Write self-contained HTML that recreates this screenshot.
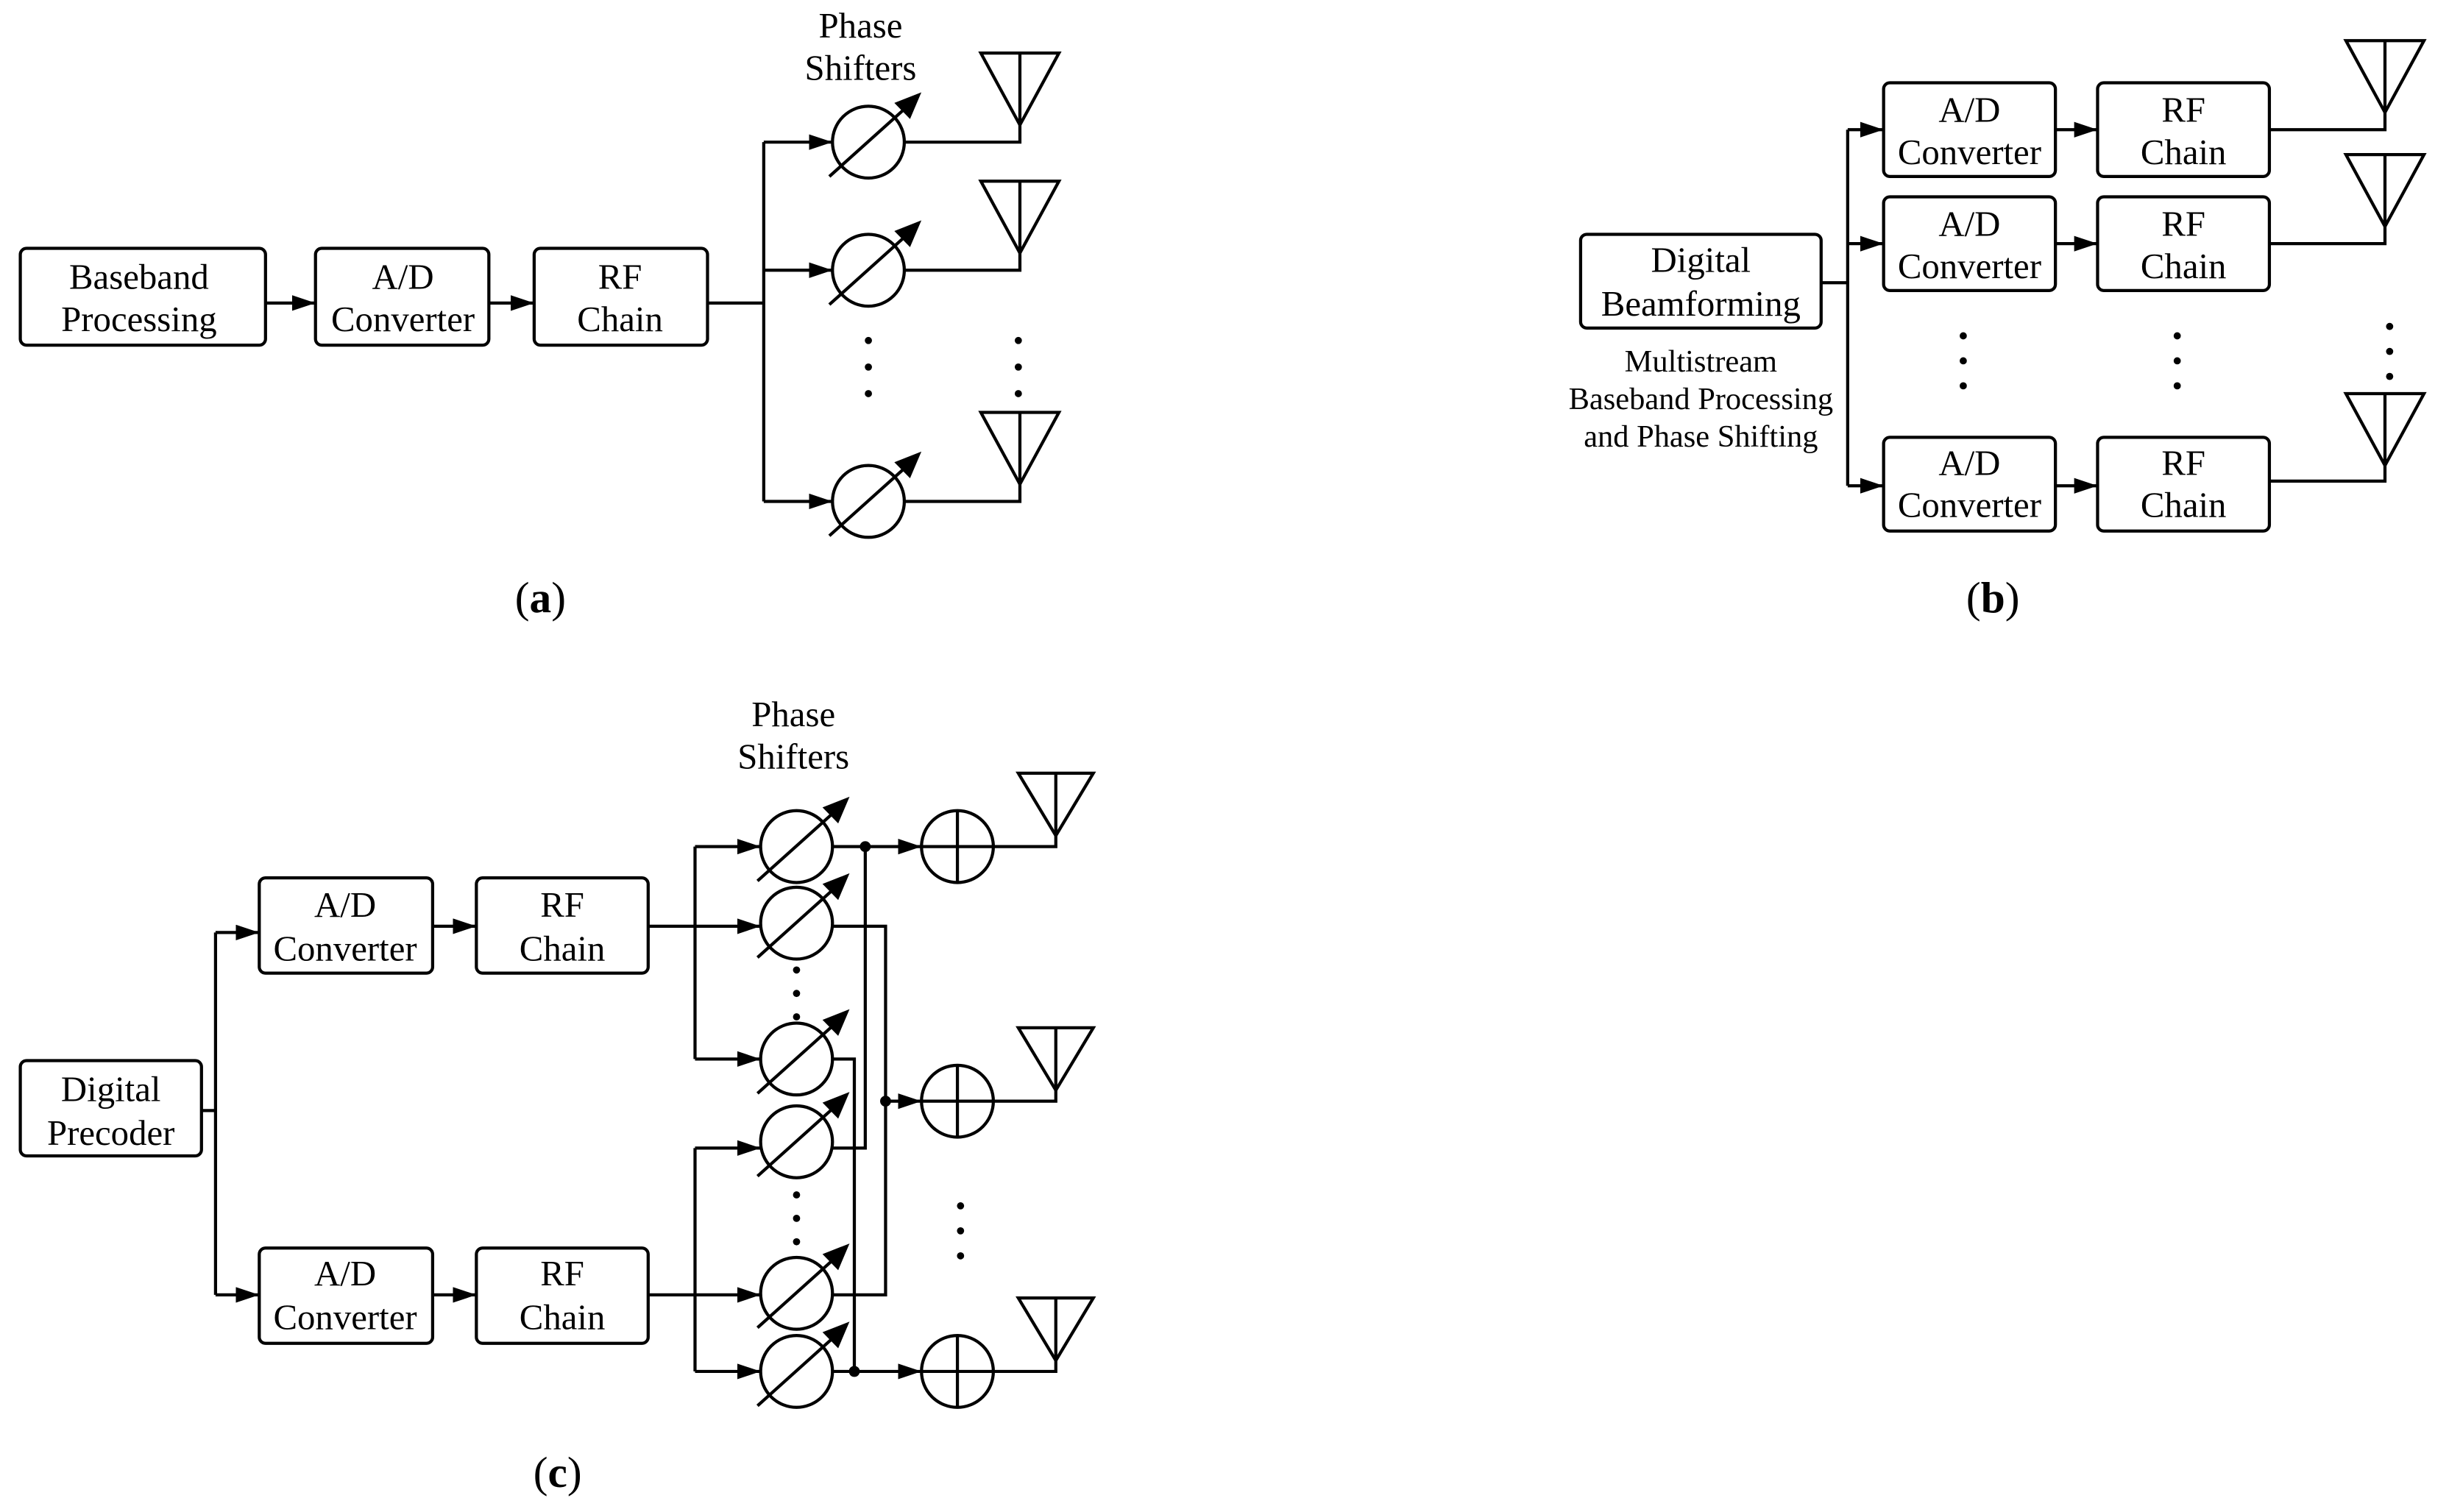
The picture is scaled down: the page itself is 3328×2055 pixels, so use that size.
<!DOCTYPE html>
<html><head><meta charset="utf-8"><style>
html,body{margin:0;padding:0;background:#fff}
svg{display:block}
text{font-family:"Liberation Serif",serif;fill:#000}
</style></head><body>
<svg width="3328" height="2055" viewBox="0 0 1568 968" preserveAspectRatio="none" xmlns="http://www.w3.org/2000/svg">
<defs>
<marker id="ar" markerUnits="userSpaceOnUse" markerWidth="16" markerHeight="12" refX="15" refY="5" orient="auto">
<path d="M0,0 L15,5 L0,10 Z" fill="#000"/></marker>
<g id="ps">
<circle r="23" fill="none" stroke="#000" stroke-width="2"/>
<line x1="-25" y1="22" x2="24" y2="-22" stroke="#000" stroke-width="2"/>
<polygon points="33,-31 26.5,-15.7 17.5,-24.9" fill="#000" stroke="#000" stroke-width="1"/>
</g>
<g id="ad">
<circle r="23" fill="none" stroke="#000" stroke-width="2"/>
<line x1="-23" y1="0" x2="23" y2="0" stroke="#000" stroke-width="2"/>
<line x1="0" y1="-23" x2="0" y2="23" stroke="#000" stroke-width="2"/>
</g>
<g id="ant"><polygon points="-25,-46 25,-46 0,0" fill="none" stroke="#000" stroke-width="2"/><line x1="0" y1="-46" x2="0" y2="0" stroke="#000" stroke-width="2"/></g>
<g id="ant2"><polygon points="-24,-40 24,-40 0,0" fill="none" stroke="#000" stroke-width="2"/><line x1="0" y1="-40" x2="0" y2="0" stroke="#000" stroke-width="2"/></g>
</defs>
<g fill="none" stroke="#000" stroke-width="2">
<!-- (a) -->
<rect x="13" y="159" width="157" height="62" rx="4"/>
<rect x="202" y="159" width="111" height="62" rx="4"/>
<rect x="342" y="159" width="111" height="62" rx="4"/>
<line x1="170" y1="194" x2="202" y2="194" marker-end="url(#ar)"/>
<line x1="313" y1="194" x2="342" y2="194" marker-end="url(#ar)"/>
<path d="M453,194 H489"/>
<path d="M489,91 V321"/>
<line x1="489" y1="91" x2="533" y2="91" marker-end="url(#ar)"/>
<line x1="489" y1="173" x2="533" y2="173" marker-end="url(#ar)"/>
<line x1="489" y1="321" x2="533" y2="321" marker-end="url(#ar)"/>
<path d="M579,91 H653 V80"/><path d="M579,173 H653 V162"/><path d="M579,321 H653 V310"/>
<!-- (b) -->
<rect x="1012" y="150" width="154" height="60" rx="4"/>
<path d="M1166,181 H1183 M1183,83 V311"/>
<rect x="1206" y="53" width="110" height="60" rx="4"/>
<rect x="1206" y="126" width="110" height="60" rx="4"/>
<rect x="1206" y="280" width="110" height="60" rx="4"/>
<rect x="1343" y="53" width="110" height="60" rx="4"/>
<rect x="1343" y="126" width="110" height="60" rx="4"/>
<rect x="1343" y="280" width="110" height="60" rx="4"/>
<line x1="1183" y1="83" x2="1206" y2="83" marker-end="url(#ar)"/>
<line x1="1183" y1="156" x2="1206" y2="156" marker-end="url(#ar)"/>
<line x1="1183" y1="311" x2="1206" y2="311" marker-end="url(#ar)"/>
<line x1="1316" y1="83" x2="1343" y2="83" marker-end="url(#ar)"/>
<line x1="1316" y1="156" x2="1343" y2="156" marker-end="url(#ar)"/>
<line x1="1316" y1="311" x2="1343" y2="311" marker-end="url(#ar)"/>
<path d="M1453,83 H1527 V72 M1453,156 H1527 V145 M1453,308 H1527 V298"/>
<!-- (c) -->
<rect x="13" y="679" width="116" height="61" rx="4"/>
<path d="M129,711 H138 M138,597 V829"/>
<line x1="138" y1="597" x2="166" y2="597" marker-end="url(#ar)"/>
<line x1="138" y1="829" x2="166" y2="829" marker-end="url(#ar)"/>
<rect x="166" y="562" width="111" height="61" rx="4"/>
<rect x="166" y="799" width="111" height="61" rx="4"/>
<rect x="305" y="562" width="110" height="61" rx="4"/>
<rect x="305" y="799" width="110" height="61" rx="4"/>
<line x1="277" y1="593" x2="305" y2="593" marker-end="url(#ar)"/>
<line x1="277" y1="829" x2="305" y2="829" marker-end="url(#ar)"/>
<path d="M415,593 H445 M445,542 V678 M415,829 H445 M445,735 V878"/>
<line x1="445" y1="542" x2="487" y2="542" marker-end="url(#ar)"/>
<line x1="445" y1="593" x2="487" y2="593" marker-end="url(#ar)"/>
<line x1="445" y1="678" x2="487" y2="678" marker-end="url(#ar)"/>
<line x1="445" y1="735" x2="487" y2="735" marker-end="url(#ar)"/>
<line x1="445" y1="829" x2="487" y2="829" marker-end="url(#ar)"/>
<line x1="445" y1="878" x2="487" y2="878" marker-end="url(#ar)"/>
<path d="M533,542 H554 V735 H533"/>
<path d="M533,593 H567 V829 H533"/>
<path d="M533,678 H547 V878 H533"/>
<line x1="554" y1="542" x2="590" y2="542" marker-end="url(#ar)"/>
<line x1="567" y1="705" x2="590" y2="705" marker-end="url(#ar)"/>
<line x1="547" y1="878" x2="590" y2="878" marker-end="url(#ar)"/>
<path d="M636,542 H676 V535 M636,705 H676 V698 M636,878 H676 V871"/>
</g>
<g fill="#000">
<circle cx="554" cy="542" r="3.5"/><circle cx="567" cy="705" r="3.5"/><circle cx="547" cy="878" r="3.5"/>
<circle cx="556" cy="218" r="2.3"/><circle cx="556" cy="235" r="2.3"/><circle cx="556" cy="252" r="2.3"/>
<circle cx="652" cy="218" r="2.3"/><circle cx="652" cy="235" r="2.3"/><circle cx="652" cy="252" r="2.3"/>
<circle cx="1257" cy="215" r="2.3"/><circle cx="1257" cy="231" r="2.3"/><circle cx="1257" cy="247" r="2.3"/>
<circle cx="1394" cy="215" r="2.3"/><circle cx="1394" cy="231" r="2.3"/><circle cx="1394" cy="247" r="2.3"/>
<circle cx="1530" cy="209" r="2.3"/><circle cx="1530" cy="225" r="2.3"/><circle cx="1530" cy="241" r="2.3"/>
<circle cx="510" cy="621" r="2.3"/><circle cx="510" cy="636" r="2.3"/><circle cx="510" cy="651" r="2.3"/>
<circle cx="510" cy="765" r="2.3"/><circle cx="510" cy="780" r="2.3"/><circle cx="510" cy="795" r="2.3"/>
<circle cx="615" cy="772" r="2.3"/><circle cx="615" cy="788" r="2.3"/><circle cx="615" cy="804" r="2.3"/>
</g>
<use href="#ps" x="556" y="91"/><use href="#ps" x="556" y="173"/><use href="#ps" x="556" y="321"/>
<use href="#ps" x="510" y="542"/><use href="#ps" x="510" y="591"/><use href="#ps" x="510" y="678"/>
<use href="#ps" x="510" y="731"/><use href="#ps" x="510" y="828"/><use href="#ps" x="510" y="878"/>
<use href="#ad" x="613" y="542"/><use href="#ad" x="613" y="705"/><use href="#ad" x="613" y="878"/>
<use href="#ant" x="653" y="80"/><use href="#ant" x="653" y="162"/><use href="#ant" x="653" y="310"/>
<use href="#ant" x="1527" y="72"/><use href="#ant" x="1527" y="145"/><use href="#ant" x="1527" y="298"/>
<use href="#ant2" x="676" y="535"/><use href="#ant2" x="676" y="698"/><use href="#ant2" x="676" y="871"/>
<g font-size="23" text-anchor="middle">
<text x="89" y="185">Baseband</text><text x="89" y="212">Processing</text>
<text x="258" y="185">A/D</text><text x="258" y="212">Converter</text>
<text x="397" y="185">RF</text><text x="397" y="212">Chain</text>
<text x="551" y="24">Phase</text><text x="551" y="51">Shifters</text>
<text x="1089" y="174">Digital</text><text x="1089" y="202">Beamforming</text>
<text x="1261" y="78">A/D</text><text x="1261" y="105">Converter</text>
<text x="1261" y="151">A/D</text><text x="1261" y="178">Converter</text>
<text x="1261" y="304">A/D</text><text x="1261" y="331">Converter</text>
<text x="1398" y="78">RF</text><text x="1398" y="105">Chain</text>
<text x="1398" y="151">RF</text><text x="1398" y="178">Chain</text>
<text x="1398" y="304">RF</text><text x="1398" y="331">Chain</text>
<text x="71" y="705">Digital</text><text x="71" y="733">Precoder</text>
<text x="221" y="587">A/D</text><text x="221" y="615">Converter</text>
<text x="221" y="823">A/D</text><text x="221" y="851">Converter</text>
<text x="360" y="587">RF</text><text x="360" y="615">Chain</text>
<text x="360" y="823">RF</text><text x="360" y="851">Chain</text>
<text x="508" y="465">Phase</text><text x="508" y="492">Shifters</text>
</g>
<g font-size="20" text-anchor="middle">
<text x="1089" y="238">Multistream</text>
<text x="1089" y="262">Baseband Processing</text>
<text x="1089" y="286">and Phase Shifting</text>
</g>
<g font-size="28" text-anchor="middle">
<text x="346" y="392">(<tspan font-weight="bold">a</tspan>)</text>
<text x="1276" y="392">(<tspan font-weight="bold">b</tspan>)</text>
<text x="357" y="952">(<tspan font-weight="bold">c</tspan>)</text>
</g>
</svg>
</body></html>
